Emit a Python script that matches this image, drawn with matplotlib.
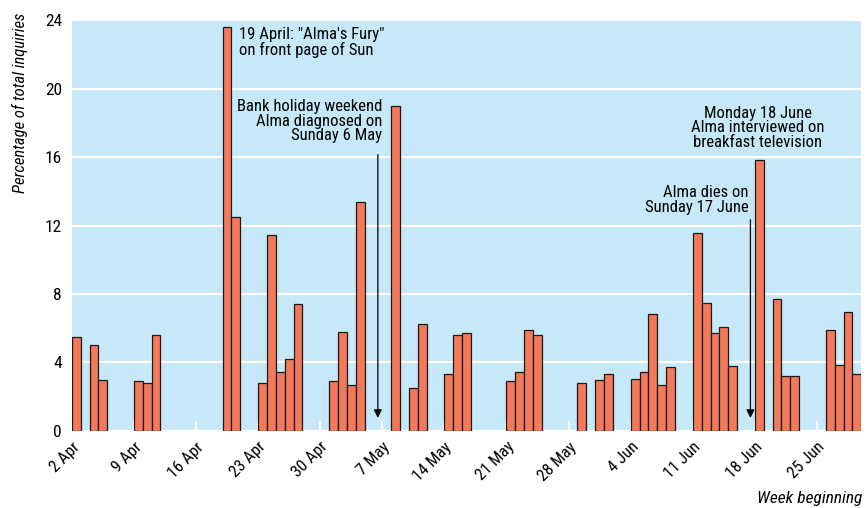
import pandas as pd
import matplotlib.pyplot as plt
from matplotlib import font_manager

# pick a narrow font if there is one
names = {f.name for f in font_manager.fontManager.ttflist}
fam = [n for n in ['Liberation Sans Narrow', 'Roboto Condensed', 'Roboto', 'DejaVu Sans'] if n in names]
plt.rcParams['font.family'] = fam

# Data (2001, weekdays only)
dates = ['2001-04-02', '2001-04-04', '2001-04-05',
         '2001-04-09', '2001-04-10', '2001-04-11',
         '2001-04-19', '2001-04-20',
         '2001-04-23', '2001-04-24', '2001-04-25', '2001-04-26', '2001-04-27',
         '2001-05-01', '2001-05-02', '2001-05-03', '2001-05-04',
         '2001-05-08', '2001-05-10', '2001-05-11',
         '2001-05-14', '2001-05-15', '2001-05-16',
         '2001-05-21', '2001-05-22', '2001-05-23', '2001-05-24',
         '2001-05-29', '2001-05-31', '2001-06-01',
         '2001-06-04', '2001-06-05', '2001-06-06', '2001-06-07', '2001-06-08',
         '2001-06-11', '2001-06-12', '2001-06-13', '2001-06-14', '2001-06-15',
         '2001-06-18', '2001-06-20', '2001-06-21', '2001-06-22',
         '2001-06-26', '2001-06-27', '2001-06-28', '2001-06-29']
values = [5.5, 5.0, 3.0,
          2.9, 2.8, 5.6,
          23.6, 12.5,
          2.8, 11.45, 3.45, 4.2, 7.4,
          2.9, 5.8, 2.7, 13.35,
          19.0, 2.5, 6.25,
          3.35, 5.6, 5.7,
          2.9, 3.45, 5.9, 5.6,
          2.8, 3.0, 3.3,
          3.05, 3.45, 6.85, 2.7, 3.75,
          11.55, 7.45, 5.7, 6.05, 3.8,
          15.8, 7.7, 3.2, 3.2,
          5.9, 3.85, 6.95, 3.35]
week_labels = ['2 Apr', '9 Apr', '16 Apr', '23 Apr', '30 Apr', '7 May', '14 May',
               '21 May', '28 May', '4 Jun', '11 Jun', '18 Jun', '25 Jun']

start = pd.Timestamp('2001-04-02')
day = [(pd.Timestamp(d) - start).days for d in dates]
week_pos = [7 * i for i in range(len(week_labels))]

fig = plt.figure(figsize=(8.68, 5.08), dpi=100)
ax = fig.add_axes([0.0827, 0.1516, 0.9096, 0.809])
ax.set_facecolor('#c6e8f8')

ax.bar(day, values, width=1, align='edge', color='#f27a5b',
       edgecolor='#1a1a1a', linewidth=0.9, zorder=3)

ax.set_xlim(0, 89)
ax.set_ylim(0, 24)
ax.set_yticks(range(0, 25, 4))
ax.yaxis.grid(True, color='white', linewidth=1.6, zorder=1)
ax.tick_params(axis='y', length=0, labelsize=12.5, pad=7)
ax.set_xticks(week_pos)
ax.set_xticklabels(week_labels, rotation=45, ha='right', rotation_mode='anchor', fontsize=12)
ax.tick_params(axis='x', direction='in', length=7, width=1.5, color='white', pad=6)
for s in ax.spines.values():
    s.set_visible(False)

# Annotations
fs = 12
ax.text(18.9, 23.6, '19 April: "Alma\'s Fury"\non front page of Sun',
        ha='left', va='top', fontsize=fs, linespacing=0.98, zorder=4)
ax.text(35.0, 19.4, 'Bank holiday weekend\nAlma diagnosed on\nSunday 6 May',
        ha='right', va='top', fontsize=fs, linespacing=0.98, zorder=4)
ax.text(77.3, 19.0, 'Monday 18 June\nAlma interviewed on\nbreakfast television',
        ha='center', va='top', fontsize=fs, linespacing=0.98, zorder=4)
ax.text(76.3, 14.35, 'Alma dies on\nSunday 17 June',
        ha='right', va='top', fontsize=fs, linespacing=0.98, zorder=4)

arrow = dict(arrowstyle='-|>', color='black', lw=0.9, mutation_scale=12)
ax.annotate('', xy=(34.5, 0.6), xytext=(34.5, 16.3), arrowprops=arrow, zorder=4)
ax.annotate('', xy=(76.5, 0.6), xytext=(76.5, 12.5), arrowprops=arrow, zorder=4)

fig.text(0.023, 0.975, 'Percentage of total inquiries', rotation=90,
         ha='center', va='top', fontsize=12, style='italic')
fig.text(0.993, 0.004, 'Week beginning', ha='right', va='bottom',
         fontsize=12.5, style='italic')

fig.savefig('out.png', dpi=100)
